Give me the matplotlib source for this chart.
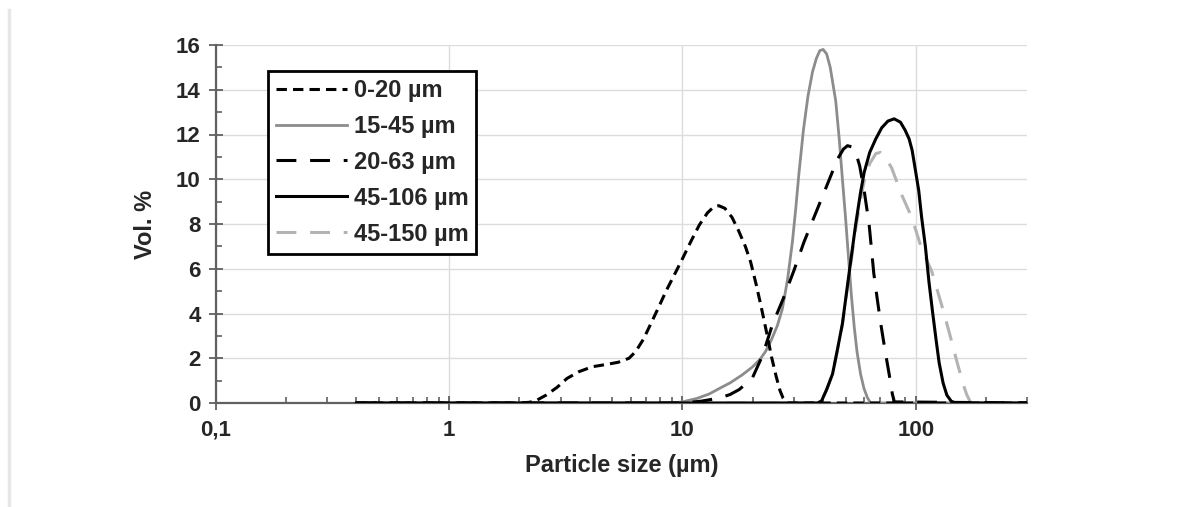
import matplotlib
matplotlib.use("Agg")
import matplotlib.pyplot as plt
from matplotlib.lines import Line2D
from matplotlib.ticker import FixedLocator, FixedFormatter, LogLocator, NullFormatter

plt.rcParams['font.family'] = ['Liberation Sans', 'DejaVu Sans']
plt.rcParams['font.weight'] = 'bold'

# particle size distributions (vol. %)
x_0_20 = [0.4, 2.0, 2.2, 2.35, 2.6, 2.9, 3.2, 3.6, 4.1, 4.7, 5.3, 5.9, 6.3, 6.8, 7.4,
          8.0, 8.5, 9.2, 10.0, 10.9, 11.8, 12.8, 13.6, 14.3, 15.2, 16.3, 17.4, 18.6,
          19.6, 20.7, 21.8, 23.0, 24.1, 25.2, 26.2, 27.0, 27.8, 28.5, 300]
y_0_20 = [0, 0, 0.03, 0.1, 0.35, 0.7, 1.1, 1.4, 1.62, 1.72, 1.82, 2.0, 2.3, 2.85, 3.65,
          4.4, 5.0, 5.7, 6.45, 7.25, 7.95, 8.5, 8.76, 8.82, 8.7, 8.3, 7.7, 7.0,
          6.3, 5.3, 4.25, 3.1, 2.05, 1.2, 0.55, 0.22, 0.05, 0, 0]

x_15_45 = [0.4, 9, 10, 11.5, 13, 14.4, 16, 18, 19.9, 21.5, 22.7, 24, 25.5, 26.8, 28.2,
           29.6, 30.6, 31.6, 33, 34.5, 36.1, 37.5, 38.8, 40.1, 41.5, 43, 45.4, 47, 48.5,
           50, 51.5, 53, 54.5, 56, 58, 60, 62, 64, 300]
y_15_45 = [0, 0, 0.05, 0.2, 0.4, 0.65, 0.9, 1.25, 1.6, 1.95, 2.3, 2.8, 3.45, 4.2, 5.5,
           7.2, 8.7, 10.3, 12.2, 13.7, 14.8, 15.4, 15.75, 15.8, 15.6, 15.0, 13.5, 11.8, 10.0,
           8.3, 6.5, 4.8, 3.4, 2.3, 1.3, 0.65, 0.25, 0, 0]

x_20_63 = [0.4, 10, 12, 14.4, 16, 17.5, 19.9, 22, 24.3, 27, 30, 33.2, 37.3, 41.9, 46.2,
           49, 51, 53, 55.3, 57.5, 60.1, 63.1, 66.1, 68.5, 70.8, 74, 76.9, 79.4, 81, 300]
y_20_63 = [0, 0, 0.08, 0.22, 0.38, 0.6, 1.1, 2.1, 3.5, 4.65, 5.9, 7.2, 8.5, 9.8, 10.9,
           11.35, 11.5, 11.45, 11.2, 10.6, 9.5, 8.0, 5.8, 4.6, 3.55, 2.3, 1.3, 0.4, 0.05, 0]

x_45_106 = [0.4, 38, 39.5, 41.5, 44, 46, 48.5, 51.8, 55.3, 58, 60.1, 63.5, 67.4, 71.5, 76,
            80.8, 86, 90, 93.7, 96.5, 99, 103, 106, 110, 114, 118, 122, 126, 131, 136,
            142, 148, 300]
y_45_106 = [0, 0, 0.1, 0.6, 1.3, 2.3, 3.55, 5.8, 8.0, 9.4, 10.3, 11.2, 11.8, 12.3, 12.6,
            12.7, 12.55, 12.2, 11.8, 11.3, 10.6, 9.5, 8.3, 7.0, 5.4, 4.1, 2.9, 1.8, 0.9, 0.35,
            0.08, 0, 0]

x_45_150 = [0.4, 38, 39.5, 41.5, 44, 46, 48.5, 51.8, 55.3, 58, 60.1, 63.5, 67.5, 70.5,
            73.9, 78.9, 87.1, 96.1, 106, 117, 129, 140, 150, 160, 165.5, 171, 175, 300]
y_45_150 = [0, 0, 0.1, 0.6, 1.3, 2.3, 3.5, 5.7, 7.8, 9.1, 9.9, 10.7, 11.15, 11.2,
            11.0, 10.5, 9.3, 8.3, 6.9, 5.9, 4.4, 3.06, 1.87, 0.82, 0.37, 0.07, 0, 0]

labels = ['0-20 µm', '15-45 µm', '20-63 µm', '45-106 µm', '45-150 µm']
x_ticks = [0.1, 1, 10, 100]
x_tick_labels = ['0,1', '1', '10', '100']
y_ticks = [0, 2, 4, 6, 8, 10, 12, 14, 16]

W, H = 1187, 507
fig = plt.figure(figsize=(W / 100, H / 100), dpi=100)
ax = fig.add_axes([216 / W, 1 - 403 / H, (1027 - 216) / W, (403 - 45) / H])

lw = 2.2
short_dash = (3.4, 2.0)
long_dash = (6.5, 4.5)
l1, = ax.plot(x_0_20, y_0_20, color='black', lw=lw, dashes=short_dash, zorder=5)
l2, = ax.plot(x_15_45, y_15_45, color='#8c8c8c', lw=2.0, zorder=4)
l3, = ax.plot(x_20_63, y_20_63, color='black', lw=lw, dashes=long_dash, zorder=5)
l5, = ax.plot(x_45_150, y_45_150, color='#b3b3b3', lw=lw, dashes=long_dash, zorder=3)
l4, = ax.plot(x_45_106, y_45_106, color='black', lw=lw, zorder=6)

ax.set_xscale('log')
ax.set_xlim(0.1, 300)
ax.set_ylim(0, 16)

ax.xaxis.set_major_locator(FixedLocator(x_ticks))
ax.xaxis.set_major_formatter(FixedFormatter(x_tick_labels))
ax.xaxis.set_minor_locator(LogLocator(base=10, subs=range(2, 10)))
ax.xaxis.set_minor_formatter(NullFormatter())
ax.yaxis.set_major_locator(FixedLocator(y_ticks))
ax.yaxis.set_minor_locator(FixedLocator([1, 3, 5, 7, 9, 11, 13, 15]))

for s in ['top', 'right']:
    ax.spines[s].set_visible(False)
for s in ['left', 'bottom']:
    ax.spines[s].set_color('#606060')
    ax.spines[s].set_linewidth(1.6)

ax.grid(True, which='major', color='#dcdcdc', lw=1.0)
ax.set_axisbelow(True)

ax.tick_params(which='major', direction='inout', length=10, width=1.3, color='#606060',
               labelsize=16, labelcolor='#262626')
ax.tick_params(axis='y', which='major', pad=6)
ax.tick_params(axis='x', which='major', pad=7)
ax.tick_params(which='minor', direction='in', length=4, width=1.2, color='#606060')
for t in ax.get_xticklabels() + ax.get_yticklabels():
    t.set_fontweight('bold')

ax.set_xlabel('Particle size (µm)', fontsize=17, fontweight='bold', color='#262626')
ax.set_ylabel('Vol. %', fontsize=17, fontweight='bold', color='#262626')
ax.xaxis.set_label_coords(0.5, -0.143)
ax.yaxis.set_label_coords(-0.073, 0.5)

leg = ax.legend([l1, l2, l3, l4, l5], labels, loc='upper left',
                bbox_to_anchor=(268 / W, 1 - 71 / H), bbox_transform=fig.transFigure,
                borderaxespad=0, fancybox=False, framealpha=1, edgecolor='black',
                prop={'size': 17, 'weight': 'bold'}, handlelength=3.0, handletextpad=0.3,
                labelspacing=0.55, borderpad=0.33)
leg.get_frame().set_linewidth(2.0)
for t in leg.get_texts():
    t.set_color('#262626')

# faint border line at the left edge of the picture
fig.add_artist(Line2D([9 / W, 9 / W], [0, 1 - 10 / H], transform=fig.transFigure,
                      color='#e6e6e6', lw=2.5))

fig.savefig('out.png', dpi=100)
